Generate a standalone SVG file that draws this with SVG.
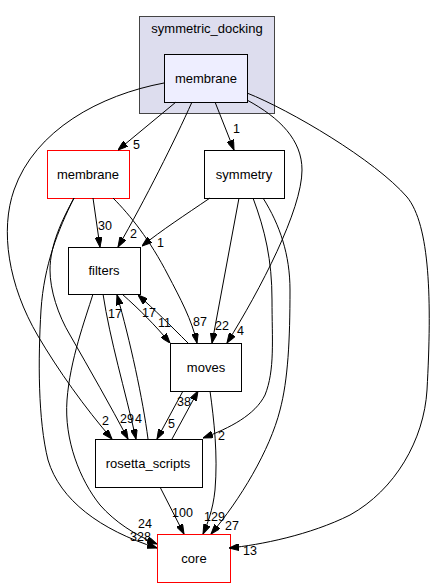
<svg xmlns="http://www.w3.org/2000/svg" width="437" height="588" viewBox="0 0 437 588">
<defs>
<style>
text{font-family:"Liberation Sans",Arial,sans-serif;font-size:12.5px;fill:#000}
.n{text-anchor:middle;font-size:13px}
.e{fill:none;stroke:#000;stroke-width:1}
.box{fill:#fff;stroke:#000;stroke-width:1}
.red{fill:#fff;stroke:#ff0000;stroke-width:1}
</style>
<marker id="a" viewBox="0 0 10 7" refX="10" refY="3.5" markerWidth="10" markerHeight="7" markerUnits="userSpaceOnUse" orient="auto">
<path d="M0,0 L10,3.5 L0,7 z" fill="#000" stroke="#000"/>
</marker>
</defs>
<rect width="437" height="588" fill="#fff"/>
<g id="cluster_symmetric_docking">
<rect x="139.5" y="16.5" width="135" height="97" fill="#ddddee" stroke="#444"/>
<text class="n" x="207" y="33">symmetric_docking</text>
</g>
<g id="node_sd_membrane">
<rect x="164.5" y="54.5" width="83" height="48" fill="#eeeeff" stroke="#000"/>
<text class="n" x="206" y="82.5">membrane</text>
</g>
<g id="node_membrane">
<rect class="red" x="47.5" y="150.5" width="82" height="48"/>
<text class="n" x="88" y="178.5">membrane</text>
</g>
<g id="node_symmetry">
<rect class="box" x="204.5" y="150.5" width="80" height="48"/>
<text class="n" x="244" y="178.5">symmetry</text>
</g>
<g id="node_filters">
<rect class="box" x="68.5" y="247.5" width="72" height="47"/>
<text class="n" x="104" y="274.5">filters</text>
</g>
<g id="node_moves">
<rect class="box" x="170.5" y="343.5" width="71" height="48"/>
<text class="n" x="206" y="371.5">moves</text>
</g>
<g id="node_rosetta_scripts">
<rect class="box" x="95.5" y="439.5" width="107" height="48"/>
<text class="n" x="148" y="467.5">rosetta_scripts</text>
</g>
<g id="node_core">
<rect class="red" x="157.5" y="534.5" width="73" height="48"/>
<text class="n" x="194" y="562.5">core</text>
</g>
<g id="connectors">
<path class="e" marker-end="url(#a)" d="M176,102 L118,150"/>
<text x="133" y="149">5</text>
<path class="e" marker-end="url(#a)" d="M215,102 L234,150"/>
<text x="233" y="133">1</text>
<path class="e" marker-end="url(#a)" d="M192,102 C175,140 145,200 118,247"/>
<text x="130" y="238">2</text>
<path class="e" marker-end="url(#a)" d="M247,100 C280,118 302,140 302,170 C302,210 260,290 227,343"/>
<text x="237" y="335">4</text>
<path class="e" marker-end="url(#a)" d="M164,83 C100,95 35,130 14,190 C0,230 8,285 38,336 C58,370 85,408 112,439"/>
<text x="102" y="425">2</text>
<path class="e" marker-end="url(#a)" d="M247,93 C290,110 375,160 407,197 C430,225 432,300 427,390 C424,440 395,490 350,515 C310,535 260,545 229,548"/>
<text x="243" y="555">13</text>
<path class="e" marker-end="url(#a)" d="M93,198 L100,247"/>
<text x="98" y="230">30</text>
<path class="e" marker-end="url(#a)" d="M113,198 C130,215 150,240 168,275 C180,298 192,320 197,343"/>
<text x="193" y="326">87</text>
<path class="e" marker-end="url(#a)" d="M74,198 C62,220 50,245 50,270 C50,290 58,315 70,335 C90,370 110,405 128,439"/>
<text x="120" y="423">29</text>
<path class="e" marker-end="url(#a)" d="M74,198 C58,230 44,265 41,310 C38,360 38,420 48,460 C60,500 100,530 157,548"/>
<text x="130" y="541">328</text>
<path class="e" marker-end="url(#a)" d="M93,294 C85,320 70,360 67,400 C64,440 80,480 100,505 C115,522 135,535 157,544"/>
<text x="138" y="528">24</text>
<path class="e" marker-end="url(#a)" d="M210,198 C185,215 162,230 142,246"/>
<text x="157" y="247">1</text>
<path class="e" marker-end="url(#a)" d="M239,198 L212,343"/>
<text x="215" y="330">22</text>
<path class="e" marker-end="url(#a)" d="M253,198 C265,230 272,260 272,300 C272,340 275,370 265,395 C255,415 230,428 203,438"/>
<text x="218" y="440">2</text>
<path class="e" marker-end="url(#a)" d="M263,198 C280,225 290,255 290,290 C290,340 288,380 280,410 C270,450 240,500 211,534"/>
<text x="225" y="530">27</text>
<path class="e" marker-end="url(#a)" d="M122,294 C140,310 155,325 170,343"/>
<text x="158" y="327">11</text>
<path class="e" marker-end="url(#a)" d="M103,294 C110,340 125,390 136,439"/>
<text x="135" y="423">4</text>
<path class="e" marker-end="url(#a)" d="M188,343 C170,325 155,310 138,295"/>
<text x="142" y="317">17</text>
<path class="e" marker-end="url(#a)" d="M183,391 L157,439"/>
<text x="168" y="428">5</text>
<path class="e" marker-end="url(#a)" d="M210,391 C214,420 218,455 215,490 C213,510 207,525 203,534"/>
<text x="204" y="521">129</text>
<path class="e" marker-end="url(#a)" d="M148,439 C143,400 130,340 117,295"/>
<text x="108" y="318">17</text>
<path class="e" marker-end="url(#a)" d="M172,439 L198,391"/>
<text x="177" y="406">38</text>
<path class="e" marker-end="url(#a)" d="M160,487 L184,534"/>
<text x="172" y="517">100</text>
</g>
</svg>
